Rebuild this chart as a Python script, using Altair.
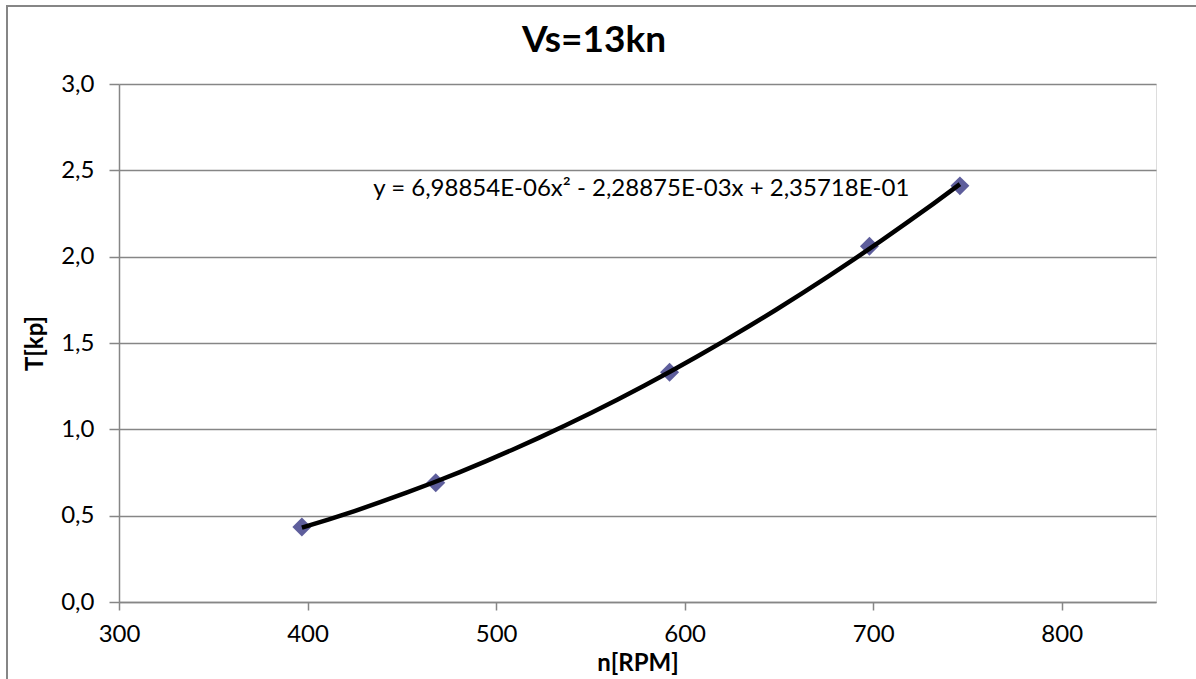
import altair as alt
import pandas as pd

# data
rpm = [397, 468, 592, 698, 746]
thrust = [0.435, 0.69, 1.33, 2.06, 2.41]

eq_text = ["y = 6,98854E-06x² - 2,28875E-03x + 2,35718E-01"]
eq_x = [577]
eq_y = [2.39]

title_text = ["Vs=13kn"]

FONT = "Lato"

df = pd.DataFrame({"n": rpm, "T": thrust})
eq_df = pd.DataFrame({"label": eq_text, "n": eq_x, "T": eq_y})
title_df = pd.DataFrame({"label": title_text})

x_scale = alt.Scale(domain=[300, 850], nice=False, zero=False)
y_scale = alt.Scale(domain=[0, 3], nice=False)

comma_fmt = "replace(format(datum.value, '.1f'), '.', ',')"

x_enc = alt.X("n:Q", scale=x_scale,
              axis=alt.Axis(title="n[RPM]", values=[300, 400, 500, 600, 700, 800],
                            grid=False, domainColor="#868686", domainWidth=1.5,
                            tickColor="#868686", tickSize=8, tickWidth=1.5,
                            labelFont=FONT, labelFontSize=24, labelColor="#000",
                            labelPadding=12, labelFlush=False, labelOverlap=False,
                            titleFont=FONT, titleFontSize=24, titleFontWeight="bold",
                            titleColor="#000", titleY=68,
                            titleBaseline="alphabetic", titleAnchor="middle", titleAlign="center"))
y_enc = alt.Y("T:Q", scale=y_scale,
              axis=alt.Axis(title="T[kp]", values=[0, 0.5, 1, 1.5, 2, 2.5, 3],
                            labelExpr=comma_fmt,
                            grid=True, gridColor="#868686", gridWidth=1.5,
                            domainColor="#868686", domainWidth=1.5,
                            tickColor="#868686", tickSize=10, tickWidth=1.5,
                            labelFont=FONT, labelFontSize=24, labelColor="#000",
                            labelPadding=15, labelFlush=False, labelOverlap=False,
                            titleFont=FONT, titleFontSize=24, titleFontWeight="bold",
                            titleColor="#000", titleX=-77, titleY=259,
                            titleAngle=270, titleBaseline="alphabetic", titleAlign="center"))

border = alt.Chart(pd.DataFrame({"a": [0]})).mark_rect(
    fill=None, stroke="#868686", strokeWidth=2, clip=False
).encode(x=alt.value(-112), x2=alt.value(1200), y=alt.value(-78), y2=alt.value(700))

title = alt.Chart(title_df).mark_text(
    font=FONT, fontSize=37, fontWeight="bold", color="#000",
    align="center", baseline="alphabetic"
).encode(x=alt.value(475), y=alt.value(-32), text="label:N")

points = alt.Chart(df).mark_point(
    shape="diamond", filled=True, color="#5E5E9C", size=360, opacity=1
).encode(x=x_enc, y=y_enc)

trend = alt.Chart(df).transform_regression(
    "n", "T", method="poly", order=2
).mark_line(color="#000000", strokeWidth=4.5).encode(x="n:Q", y="T:Q")

eq = alt.Chart(eq_df).mark_text(
    font=FONT, fontSize=24, color="#000", align="center", baseline="middle"
).encode(x="n:Q", y="T:Q", text="label:N")

chart = alt.layer(border, title, points, trend, eq).properties(
    width=1037, height=518,
    autosize=alt.AutoSizeParams(type="none"),
    padding={"left": 119, "top": 84, "right": 40, "bottom": 77},
).configure_view(stroke="#000000", strokeWidth=1.5).configure(background="#ffffff")

chart.save("out.html", embed_options={"renderer": "svg", "actions": False})
